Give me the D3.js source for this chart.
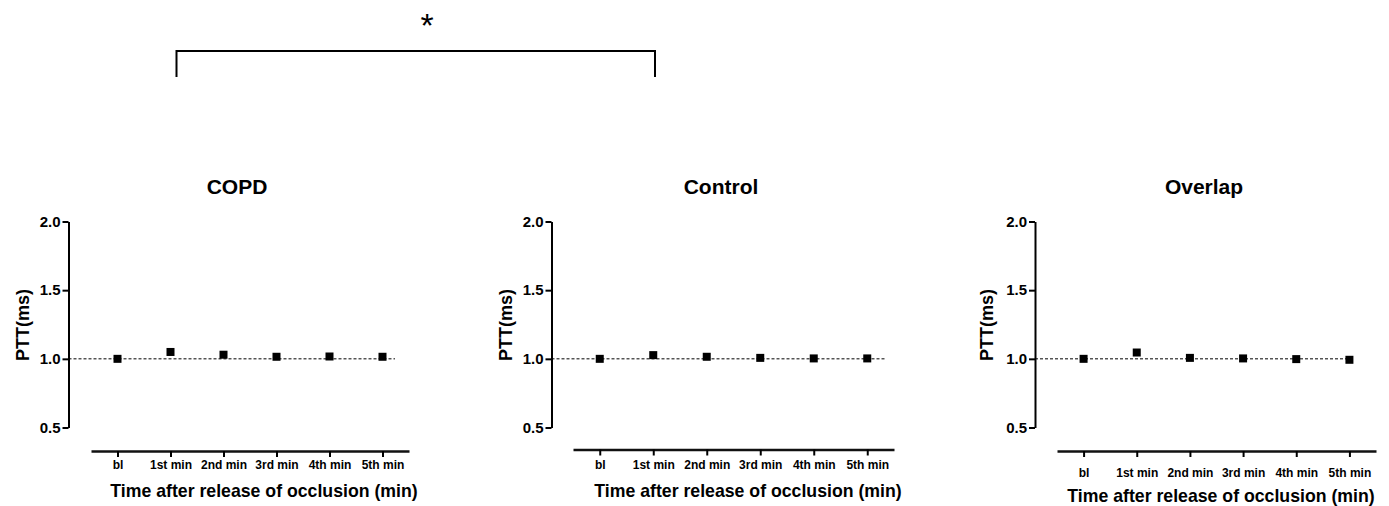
<!DOCTYPE html>
<html>
<head>
<meta charset="utf-8">
<script src="https://cdn.jsdelivr.net/npm/d3@7"></script>
<style>
  body { margin: 0; background: #fff; }
  text { font-family: Arial, "Liberation Sans", sans-serif; }
</style>
</head>
<body>
<script>
var categories = ['bl', '1st min', '2nd min', '3rd min', '4th min', '5th min'];
var copdValues = [1.00, 1.05, 1.03, 1.015, 1.017, 1.015];
var controlValues = [1.00, 1.027, 1.015, 1.007, 1.003, 1.003];
var overlapValues = [1.00, 1.046, 1.007, 1.003, 0.998, 0.993];
var yTicks = [0.5, 1.0, 1.5, 2.0];
var panelTitles = ['COPD', 'Control', 'Overlap'];
var refValue = 1.0;

var width = 1389, height = 506;

var svg = d3.select('body')
  .append('svg')
  .attr('width', width)
  .attr('height', height)

// layout for each panel (pixels)
var panels = [
  {title: panelTitles[0], values: copdValues, axisX: 68.5, xRange: [91, 409], xAxisY: 451, tickY: 469, titleX: 237, xTitleX: 264, xTitleY: 497, yLabelX: 29, dashEnd: 395},
  {title: panelTitles[1], values: controlValues, axisX: 551.5, xRange: [573, 894], xAxisY: 449.5, tickY: 469, titleX: 721, xTitleX: 748, xTitleY: 497, yLabelX: 512, dashEnd: 885},
  {title: panelTitles[2], values: overlapValues, axisX: 1035, xRange: [1057, 1376], xAxisY: 451, tickY: 477, titleX: 1204, xTitleX: 1221, xTitleY: 502, yLabelX: 993, dashEnd: 1353}
];

var y = d3.scaleLinear()
  .domain([0.5, 2.0])
  .range([427.5, 221.5])

panels.forEach(function(p) {
  var g = svg.append('g')

  var x = d3.scalePoint()
    .domain(categories)
    .range(p.xRange)
    .padding(0.5)

  // y axis
  var yAx = g.append('g')
    .attr('transform', `translate(${p.axisX},0)`)
    .call(d3.axisLeft(y).tickValues(yTicks).tickFormat(d3.format('.1f')).tickSize(6).tickSizeOuter(0).tickPadding(2))
  yAx.select('.domain').attr('stroke', '#000').attr('stroke-width', 2)
  yAx.selectAll('.tick line').attr('stroke', '#000').attr('stroke-width', 2)
  yAx.selectAll('.tick text')
    .attr('font-size', '15px')
    .attr('font-weight', 'bold')
    .attr('fill', '#000')
    .style('font-family', 'Arial, "Liberation Sans", sans-serif')

  // x axis (detached below the plot)
  var xAx = g.append('g')
    .attr('transform', `translate(0,${p.xAxisY})`)
    .call(d3.axisBottom(x).tickSize(6).tickSizeOuter(0))
  xAx.select('.domain').attr('stroke', '#111').attr('stroke-width', 2.5)
  xAx.selectAll('.tick line').attr('stroke', '#000').attr('stroke-width', 2)
  xAx.selectAll('.tick text')
    .attr('y', p.tickY - p.xAxisY)
    .attr('dy', 0)
    .attr('font-size', '12px')
    .attr('font-weight', 'bold')
    .attr('fill', '#000')
    .style('font-family', 'Arial, "Liberation Sans", sans-serif')

  // reference line at 1.0
  g.append('line')
    .attr('x1', p.axisX)
    .attr('x2', p.dashEnd)
    .attr('y1', y(refValue))
    .attr('y2', y(refValue))
    .attr('stroke', '#000')
    .attr('stroke-width', 1)
    .attr('stroke-dasharray', '3,2')

  // points
  g.append('g')
    .selectAll('rect')
    .data(p.values)
    .enter()
      .append('rect')
      .attr('x', (d, i) => x(categories[i]) - 4)
      .attr('y', d => y(d) - 4)
      .attr('width', 8)
      .attr('height', 8)
      .style('fill', '#000')

  g.append('text')
    .attr('x', p.titleX)
    .attr('y', 194)
    .attr('text-anchor', 'middle')
    .attr('font-size', '21px')
    .attr('font-weight', 'bold')
    .text(p.title)

  g.append('text')
    .attr('x', p.xTitleX)
    .attr('y', p.xTitleY)
    .attr('text-anchor', 'middle')
    .attr('font-size', '17.7px')
    .attr('font-weight', 'bold')
    .text('Time after release of occlusion (min)')

  g.append('text')
    .attr('transform', `translate(${p.yLabelX},325) rotate(-90)`)
    .attr('text-anchor', 'middle')
    .attr('font-size', '18px')
    .attr('font-weight', 'bold')
    .text('PTT(ms)')
})

// significance bracket
svg.append('path')
  .attr('d', 'M176.5,77 V51 H655 V77')
  .attr('fill', 'none')
  .attr('stroke', '#000')
  .attr('stroke-width', 2)

svg.append('text')
  .attr('x', 427)
  .attr('y', 37)
  .attr('text-anchor', 'middle')
  .attr('font-size', '34px')
  .text('*')
</script>
</body>
</html>
